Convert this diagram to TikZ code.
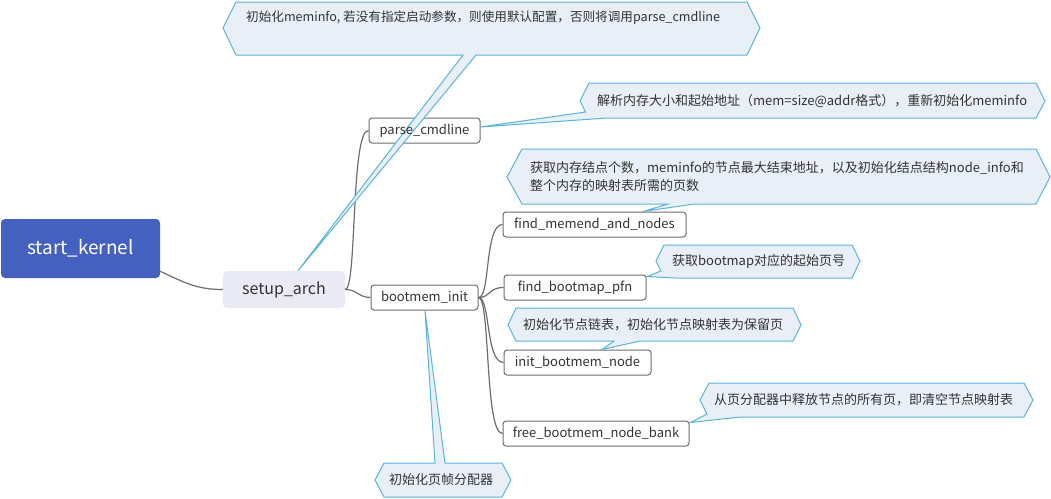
\documentclass[tikz,border=0pt]{standalone}
\usepackage{fontspec}
\setmainfont{Noto Sans CJK SC}
\usetikzlibrary{calc}
\definecolor{skblue}{HTML}{4461BF}
\definecolor{salav}{HTML}{E9EAF4}
\definecolor{txt}{HTML}{333333}
\definecolor{bord}{HTML}{6E6E6E}
\definecolor{cfill}{HTML}{E8EFF6}
\definecolor{cline}{HTML}{5BB4DA}
\tikzset{
  rootbox/.style={fill=skblue, rounded corners=4pt, text=white, minimum width=159pt, minimum height=59pt, inner sep=0pt, font=\fontsize{19}{23}\selectfont},
  mainbox/.style={fill=salav, rounded corners=4pt, text=txt, minimum width=122pt, minimum height=37pt, inner sep=0pt, font=\fontsize{16}{19}\selectfont},
  leafbox/.style={draw=bord, line width=1pt, fill=white, rounded corners=3pt, text=txt, minimum height=25pt, inner sep=0pt, font=\fontsize{13}{16}\selectfont},
  conn/.style={draw=bord, line width=1.2pt},
  callout/.style={draw=cline, fill=cfill, line width=1pt, line join=miter},
  ctext/.style={anchor=west, text=txt, inner sep=0pt, align=left, font=\fontsize{13}{18}\selectfont},
}
\begin{document}
\begin{tikzpicture}[x=1pt,y=-1pt]
\useasboundingbox (0,0) rectangle (1051,498);
\fill[white] (0,0) rectangle (1051,498);

% main nodes
\node[rootbox] (sk) at (80.5,248.5) {start\_kernel};
\node[mainbox] (sa) at (284,289.5) {setup\_arch};
\node[leafbox, minimum width=111pt] (pc) at (424.5,130.5) {};
\node[leafbox, minimum width=107pt] (bi) at (424.5,297.5) {bootmem\_init};
\node[leafbox, minimum width=183pt] (fm) at (594.5,224.5) {find\_memend\_and\_nodes};
\node[leafbox, minimum width=142pt] (fb) at (575,287.5) {find\_bootmap\_pfn};
\node[leafbox, minimum width=147pt] (ib) at (577.5,362.5) {init\_bootmem\_node};
\node[leafbox, minimum width=186pt] (fr) at (596,433.5) {free\_bootmem\_node\_bank};

% connectors
\draw[conn] ($(sk.south east)+(0,-7)$) .. controls +(25,12) and +(-25,0) .. (sa.west);
\draw[conn] (sa.east) .. controls +(12,0) and +(-18,0) .. (pc.west);
\draw[conn] (sa.east) .. controls +(12,0) and +(-12,0) .. (bi.west);
\draw[conn] (bi.east) .. controls +(12,0) and +(-18,0) .. (fm.west);
\draw[conn] (bi.east) .. controls +(12,0) and +(-15,0) .. (fb.west);
\draw[conn] (bi.east) .. controls +(12,0) and +(-18,0) .. (ib.west);
\draw[conn] (bi.east) .. controls +(12,0) and +(-18,0) .. (fr.west);

% callouts
\draw[callout] (223,28) -- (236,2) -- (747,2) -- (760,28) -- (747,55) -- (476,55) -- (sa.north -| 298,0) -- (463,55) -- (236,55) -- cycle;
\node[ctext, font=\fontsize{12.6}{18}\selectfont] (c1) at (246,18) {初始化meminfo, 若没有指定启动参数，则使用默认配置，否则将调用parse\_cmdline};

\draw[callout] (580,101) -- (589,83) -- (1036,83) -- (1045,101) -- (1036,118) -- (607,118) -- (pc.east |- 0,127) -- (585.5,112) -- cycle;
\node[ctext] (c2) at (597,101) {解析内存大小和起始地址（mem=size@addr格式），重新初始化meminfo};

\draw[callout] (507,177) -- (522,149) -- (1036,149) -- (1050,177) -- (1036,204) -- (694,204) -- (fm.north -| 643,0) -- (668,204) -- (522,204) -- cycle;
\node[ctext] (c3) at (530,177) {获取内存结点个数，meminfo的节点最大结束地址，以及初始化结点结构node\_info和\\整个内存的映射表所需的页数};

\draw[callout] (656,261) -- (664,245) -- (852,245) -- (860,261) -- (852,278) -- (675,278) -- ($(fb.north east)+(1,2)$) -- (660.7,271) -- cycle;
\node[ctext] (c4) at (672,261) {获取bootmap对应的起始页号};

\draw[callout] (508,325) -- (516,308) -- (793,308) -- (801,325) -- (793,341) -- (640,341) -- (ib.north -| 602,0) -- (614,341) -- (516,341) -- cycle;
\node[ctext] (c5) at (523,325) {初始化节点链表，初始化节点映射表为保留页};

\draw[callout] (700,400) -- (709,383) -- (1024,383) -- (1033,400) -- (1024,417) -- (740,417) -- ($(fr.north east)+(1,2)$) -- (707,414) -- cycle;
\node[ctext] (c6) at (714,400) {从页分配器中释放节点的所有页，即清空节点映射表};

\draw[callout] (375,480) -- (384,463) -- (435,463) -- (bi.south -| 425,0) -- (445,463) -- (502,463) -- (511,480) -- (502,497) -- (384,497) -- cycle;
\node[ctext] (c7) at (389,480) {初始化页帧分配器};

% label of parse_cmdline, set over the tail that crosses it
\node[text=txt, inner sep=0pt, font=\fontsize{13}{16}\selectfont] at (pc.center) {parse\_cmdline};
\end{tikzpicture}
\end{document}
